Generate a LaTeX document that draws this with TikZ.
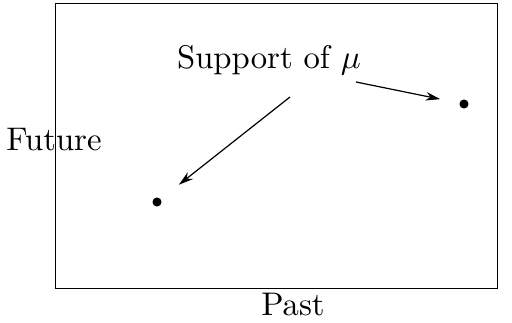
\documentclass[tikz,border=0pt]{standalone}
\usetikzlibrary{arrows.meta}
\tikzset{lbl/.style={inner sep=0pt,font=\fontsize{10.8}{13}\selectfont},
 pt/.style={circle,fill=black,inner sep=0pt,minimum size=3pt},
 arr/.style={-{Stealth[length=1.7mm,width=1mm]},draw=black,shorten >=7.5pt}}

\begin{document}
\begin{tikzpicture}[x=0.33pt,y=-0.33pt]
\useasboundingbox (0,0) rectangle (512,323);
\node[draw,minimum width=442*0.33pt,minimum height=285*0.33pt,inner sep=0pt,anchor=north west] (box) at (55,3) {};
\node[lbl] (fut) at (54,140) {Future};
\node[lbl] (past) at (293,305) {Past};
\node[lbl] (sup) at (269,60) {Support of $\mu$};
\node[pt] (p1) at (157,202) {};
\node[pt] (p2) at (464,104) {};
\coordinate (s1) at (290,97);
\coordinate (s2) at (356,82);
\draw[arr] (s1)--(p1);
\draw[arr,shorten >=6.3pt] (s2)--(p2);
\end{tikzpicture}
\end{document}
